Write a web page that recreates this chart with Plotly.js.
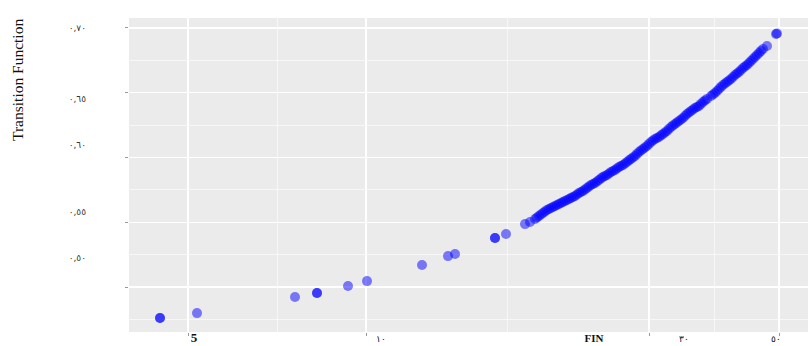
<!DOCTYPE html>
<html>
<head>
<meta charset="utf-8">
<script src="https://cdn.plot.ly/plotly-3.0.1.min.js"></script>
<style>html,body{margin:0;padding:0;background:#fff;}#chart{width:810px;height:346px;}</style>
</head>
<body>
<div id="chart"></div>
<script>
// FIN (x) and transition function (y)
const finValues = [2.2, 2.2, 5.9, 15.7, 17.9, 17.9, 21.0, 22.9, 28.4, 31.0, 31.7, 35.7, 35.7, 36.8, 38.7, 39.2,
  39.7, 39.9, 40.1, 40.3, 40.5, 40.7, 40.9, 41.1, 41.3, 41.5, 41.7, 41.9, 42.1, 42.3, 42.5, 42.7,
  42.9, 43.1, 43.3, 43.5, 43.7, 43.9, 44.1, 44.3, 44.5, 44.7, 44.9, 45.1, 45.3, 45.5, 45.7, 45.9,
  46.1, 46.3, 46.5, 46.7, 46.9, 47.1, 47.3, 47.5, 47.7, 47.9, 48.1, 48.3, 48.5, 48.7, 48.9, 49.1,
  49.3, 49.5, 49.7, 49.9, 50.1, 50.3, 50.5, 50.7, 50.9, 51.1, 51.3, 51.5, 51.7, 51.9, 52.1, 52.3,
  52.5, 52.7, 52.9, 53.1, 53.3, 53.5, 53.7, 53.9, 54.1, 54.3, 54.5, 54.7, 54.9, 55.1, 55.3, 55.5,
  55.7, 55.9, 56.1, 56.3, 56.5, 56.7, 56.9, 57.3, 57.5, 57.7, 57.9, 58.1, 58.3, 58.5, 58.7,
  58.9, 59.1, 59.3, 59.5, 59.7, 59.9, 60.1, 60.3, 60.5, 60.7, 60.9, 61.1, 61.3, 61.5, 61.7, 61.9,
  62.1, 62.3, 62.5, 62.9, 63.8, 63.9];
const transitionValues = [0.4761, 0.4761, 0.4799, 0.4923, 0.4954, 0.4954, 0.5008, 0.5046, 0.5170, 0.5239, 0.5255, 0.5378, 0.5378, 0.5409, 0.5486, 0.5502,
  0.5525, 0.5537, 0.5549, 0.5561, 0.5572, 0.5584, 0.5595, 0.5603, 0.5610, 0.5618, 0.5626, 0.5634, 0.5641, 0.5649, 0.5657, 0.5665,
  0.5672, 0.5680, 0.5688, 0.5696, 0.5703, 0.5715, 0.5726, 0.5734, 0.5742, 0.5754, 0.5765, 0.5777, 0.5788, 0.5796, 0.5803, 0.5815,
  0.5827, 0.5839, 0.5850, 0.5858, 0.5865, 0.5877, 0.5888, 0.5896, 0.5904, 0.5916, 0.5927, 0.5935, 0.5942, 0.5954, 0.5966, 0.5978,
  0.5989, 0.6001, 0.6012, 0.6028, 0.6043, 0.6055, 0.6066, 0.6078, 0.6089, 0.6105, 0.6120, 0.6132, 0.6143, 0.6151, 0.6159, 0.6171,
  0.6182, 0.6194, 0.6205, 0.6221, 0.6236, 0.6248, 0.6259, 0.6271, 0.6282, 0.6294, 0.6305, 0.6321, 0.6336, 0.6348, 0.6359, 0.6371,
  0.6382, 0.6390, 0.6398, 0.6414, 0.6429, 0.6441, 0.6452, 0.6475, 0.6487, 0.6498, 0.6514, 0.6529, 0.6545, 0.6560, 0.6572,
  0.6583, 0.6595, 0.6606, 0.6622, 0.6637, 0.6649, 0.6660, 0.6676, 0.6691, 0.6703, 0.6714, 0.6730, 0.6745, 0.6761, 0.6776, 0.6792,
  0.6807, 0.6823, 0.6838, 0.6861, 0.6954, 0.6958];

// axis ticks / grid
const xMajorTicks = [5.0, 22.8, 51.1, 64.1];
const xMinorTicks = [13.9, 36.9, 57.6];
const xLabelPositions = [5.6, 24.3, 45.6, 54.6, 63.8];
const xLabelTexts = ['<span style="font-size:13px;font-weight:bold">5</span>', '١٠',
  '<span style="font-size:11px;font-weight:bold">FIN</span>', '٣٠', '٥٠'];
const yMajorTicks = [0.50, 0.55, 0.60, 0.65, 0.70];
const yMinorTicks = [0.475, 0.525, 0.575, 0.625, 0.675];
const yLabelPositions = [0.7000, 0.6452, 0.6097, 0.5579, 0.5224];
const yLabelTexts = ['٠,٧٠', '٠,٦٥', '٠,٦٠', '٠,٥٥', '٠,٥٠'];
const yTitle = 'Transition Function';

const xRange = [-0.9, 67.0];
const yRange = [0.4653, 0.7077];

const data = [
  {
    type: 'scatter', mode: 'markers', x: finValues, y: transitionValues,
    marker: {size: 10, color: 'rgba(0,0,255,0.5)', line: {width: 0}},
    hoverinfo: 'x+y'
  },
  {type: 'scatter', mode: 'markers', x: [], y: [], xaxis: 'x2', yaxis: 'y2', hoverinfo: 'skip', showlegend: false}
];

const layout = {
  width: 810, height: 346,
  margin: {l: 129, r: 2, t: 18, b: 14},
  paper_bgcolor: '#ffffff',
  plot_bgcolor: '#EBEBEB',
  showlegend: false,
  font: {family: '"Liberation Serif", "Times New Roman", serif', color: '#222'},
  xaxis: {
    range: xRange, tickmode: 'array', tickvals: xMajorTicks, ticktext: xMajorTicks.map(() => ''),
    showgrid: true, gridcolor: '#ffffff', gridwidth: 1.1, zeroline: false, showline: false,
    ticks: 'outside', ticklen: 3, tickcolor: '#999', tickwidth: 1,
    minor: {tickmode: 'array', tickvals: xMinorTicks, showgrid: true, gridcolor: '#ffffff', gridwidth: 0.6, ticks: ''},
    fixedrange: true
  },
  xaxis2: {
    range: xRange, overlaying: 'x', anchor: 'y', side: 'bottom',
    tickmode: 'array', tickvals: xLabelPositions, ticktext: xLabelTexts,
    showgrid: false, zeroline: false, showline: false, ticks: '',
    ticklabelstandoff: 0,
    tickfont: {size: 9, color: '#111', family: '"Liberation Serif", "DejaVu Serif", serif'},
    fixedrange: true
  },
  yaxis: {
    range: yRange, tickmode: 'array', tickvals: yMajorTicks, ticktext: yMajorTicks.map(() => ''),
    showgrid: true, gridcolor: '#ffffff', gridwidth: 1.1, zeroline: false, showline: false,
    ticks: 'outside', ticklen: 3, tickcolor: '#999', tickwidth: 1,
    minor: {tickmode: 'array', tickvals: yMinorTicks, showgrid: true, gridcolor: '#ffffff', gridwidth: 0.6, ticks: ''},
    fixedrange: true
  },
  yaxis2: {
    range: yRange, overlaying: 'y', anchor: 'x', side: 'left',
    tickmode: 'array', tickvals: yLabelPositions, ticktext: yLabelTexts,
    showgrid: false, zeroline: false, showline: false, ticks: '',
    ticklabelstandoff: 42,
    tickfont: {size: 9, color: '#333', family: '"DejaVu Sans", "Noto Sans", sans-serif'},
    fixedrange: true
  },
  annotations: [{
    text: yTitle, xref: 'paper', yref: 'paper', x: -0.165, y: 0.8025,
    xanchor: 'center', yanchor: 'middle', textangle: -90, showarrow: false,
    font: {family: '"Liberation Serif", "Times New Roman", serif', size: 15.5, color: '#111'}
  }]
};

Plotly.newPlot('chart', data, layout, {displayModeBar: false, staticPlot: true});
</script>
</body>
</html>
